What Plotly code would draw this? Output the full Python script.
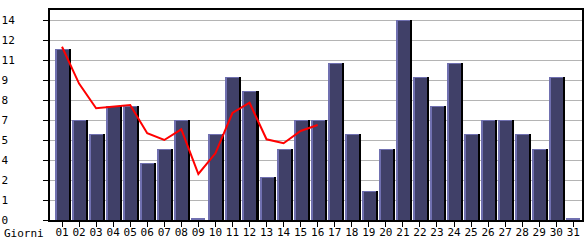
import plotly.graph_objects as go

days = ["01", "02", "03", "04", "05", "06", "07", "08", "09", "10",
        "11", "12", "13", "14", "15", "16", "17", "18", "19", "20",
        "21", "22", "23", "24", "25", "26", "27", "28", "29", "30", "31"]
visits = [12, 7, 6, 8, 8, 4, 5, 7, 0, 6,
          10, 9, 3, 5, 7, 7, 11, 6, 2, 5,
          14, 10, 8, 11, 6, 7, 7, 6, 5, 10, 0]
trend_days = days[:16]
trend = [12.13, 9.55, 7.82, 7.95, 8.05, 6.07, 5.6, 6.35, 3.22, 4.67,
         7.49, 8.21, 5.65, 5.37, 6.23, 6.65]
y_tick_vals = [0, 1.4, 2.8, 4.2, 5.6, 7.0, 8.4, 9.8, 11.2, 12.6, 14.0]
y_tick_labels = ["0", "1", "2", "4", "5", "7", "8", "9", "11", "12", "14"]
x_label = "Giorni"

PX = 17.03          # pixels per category
UNIT = 14.7 / 210   # data units per pixel on y

FONT = "DejaVu Sans Mono"
fig = go.Figure()

# black shadow
fig.add_trace(go.Bar(x=days, y=visits, width=14 / PX, offset=-5 / PX,
                     marker=dict(color="#000000", line=dict(width=0)),
                     hoverinfo="skip", showlegend=False))
# light edge
fig.add_trace(go.Bar(x=days, y=[max(v, 1.5 * UNIT) for v in visits],
                     width=14 / PX, offset=-7 / PX,
                     marker=dict(color="#7070b0", line=dict(width=0)),
                     hoverinfo="skip", showlegend=False))
# dark fill
fig.add_trace(go.Bar(x=days, y=[max(v - UNIT, 0) for v in visits],
                     width=12 / PX, offset=-5 / PX,
                     marker=dict(color="#404068", line=dict(width=0)),
                     showlegend=False))
# trend line
fig.add_trace(go.Scatter(x=trend_days, y=trend, mode="lines",
                         line=dict(color="#ff0000", width=2),
                         showlegend=False))

fig.update_layout(
    width=585, height=240,
    margin=dict(l=50, r=3, t=10, b=20, autoexpand=False),
    paper_bgcolor="white", plot_bgcolor="white",
    barmode="overlay", bargap=0,
    font=dict(family=FONT, size=11, color="#000000"),
    xaxis=dict(type="category", range=[-0.705, 30.51], automargin=False,
               showgrid=False, showline=True, linecolor="#000000",
               linewidth=2, mirror=True,
               ticks="outside", ticklen=5, tickcolor="#000000",
               ticklabelstandoff=-4,
               tickfont=dict(family=FONT, size=11, color="#000000"),
               layer="below traces"),
    yaxis=dict(range=[0, 14.7], tickvals=y_tick_vals, automargin=False,
               ticktext=[t.ljust(2, "\u00a0") for t in y_tick_labels],
               showgrid=True, gridcolor="#b4b4b4", gridwidth=1,
               showline=True, linecolor="#000000", linewidth=2, mirror=True,
               ticks="outside", ticklen=5, tickcolor="#000000",
               ticklabelstandoff=26,
               tickfont=dict(family=FONT, size=11, color="#000000"),
               zeroline=False, layer="above traces"),
    annotations=[dict(text=x_label, xref="paper", yref="paper",
                      x=-48 / 531.7, y=-13 / 210, xanchor="left",
                      yanchor="middle", showarrow=False,
                      font=dict(family=FONT, size=11, color="#000000"))],
)

fig.write_html("out.html")
